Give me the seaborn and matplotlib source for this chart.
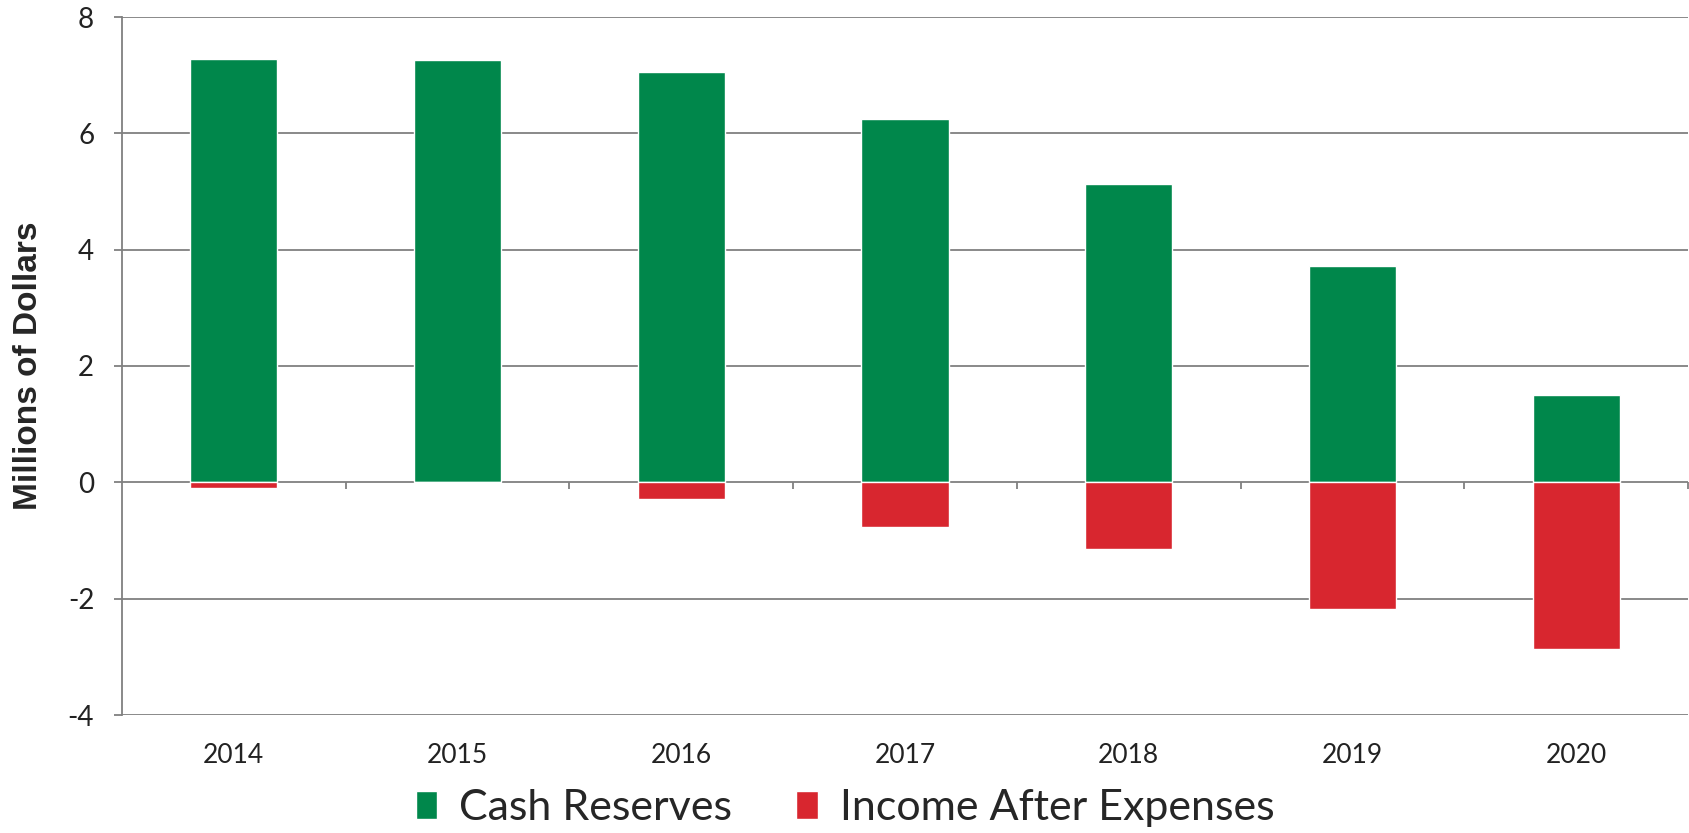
import pandas as pd
import seaborn as sns
import matplotlib.pyplot as plt

years = ['2014', '2015', '2016', '2017', '2018', '2019', '2020']
cash_reserves = [7.27, 7.26, 7.05, 6.24, 5.13, 3.72, 1.51]
income_after_expenses = [-0.10, 0.0, -0.28, -0.76, -1.15, -2.18, -2.87]
y_ticks = [-4, -2, 0, 2, 4, 6, 8]

green = '#00874B'
red = '#D8262F'
grid_grey = '#808080'

sns.set_style('white')
plt.rcParams['font.family'] = ['Lato', 'DejaVu Sans']
plt.rcParams['axes.unicode_minus'] = False

W, H = 1690, 833
fig = plt.figure(figsize=(W / 100, H / 100), dpi=100)
ax = fig.add_axes([122 / W, 1 - 715 / H, (1688 - 122) / W, (715 - 17) / H])

df = pd.DataFrame({'year': years, 'cash': cash_reserves, 'income': income_after_expenses})

sns.barplot(data=df, x='year', y='cash', color=green, width=0.39, saturation=1,
            errorbar=None, label='Cash Reserves', ax=ax)
sns.barplot(data=df, x='year', y='income', color=red, width=0.39, saturation=1,
            errorbar=None, label='Income After Expenses', ax=ax)

ax.set_xlim(-0.5, len(years) - 0.5)
ax.set_ylim(-4, 8)
ax.set_yticks(y_ticks)
ax.set_xlabel('')
ax.set_ylabel('Millions of Dollars', fontsize=24, fontweight='bold',
              family=['Liberation Sans Narrow', 'Liberation Sans'])
ax.yaxis.set_label_coords(-0.05, 0.5)

# grid and spines
ax.set_axisbelow(True)
ax.yaxis.grid(True, color=grid_grey, linewidth=1.3)
for side in ['top', 'right', 'bottom']:
    ax.spines[side].set_visible(False)
ax.spines['left'].set_color(grid_grey)
ax.spines['left'].set_linewidth(1.3)

ax.tick_params(axis='y', direction='out', length=6, width=1.3, color=grid_grey,
               labelsize=20, pad=14, left=True, labelcolor='#222222')
ax.tick_params(axis='x', length=0, labelsize=19, pad=20, labelcolor='#222222')

# small ticks between categories on the zero line
sec = ax.secondary_xaxis(0, transform=ax.transData)
sec.set_xticks([i + 0.5 for i in range(len(years))])
sec.set_xticklabels([])
sec.spines['bottom'].set_visible(False)
sec.tick_params(axis='x', direction='out', length=5, width=1.3, color=grid_grey)

if ax.get_legend() is not None:
    ax.get_legend().remove()
handles, labels = ax.get_legend_handles_labels()
fig.legend(handles, labels, loc='center', bbox_to_anchor=(0.5, 1 - 808 / H), ncol=2,
           frameon=False, fontsize=31, handlelength=0.5, handleheight=0.65,
           handletextpad=0.5, columnspacing=1.5)

fig.savefig('out.png', dpi=100)
